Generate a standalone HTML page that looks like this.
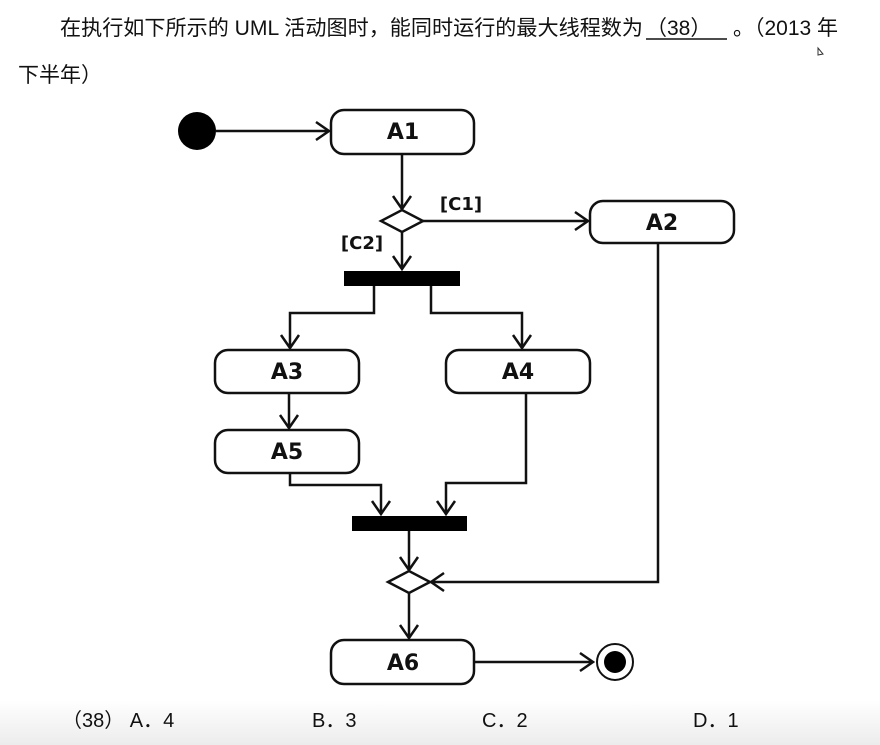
<!DOCTYPE html>
<html><head><meta charset="utf-8"><style>
html,body{margin:0;padding:0;background:#fff;}
body{width:880px;height:745px;overflow:hidden;position:relative;font-family:"Liberation Sans","Noto Sans CJK SC",sans-serif;}
.bg{position:absolute;left:0;top:700px;width:880px;height:45px;background:linear-gradient(#fff,#ececec);}
</style></head><body>
<div class="bg"></div>
<svg width="880" height="745" style="position:absolute;left:0;top:0" xmlns="http://www.w3.org/2000/svg">
<g font-family="Liberation Sans, Noto Sans CJK SC, sans-serif" fill="#111">
<text x="60" y="35" font-size="21" textLength="583" lengthAdjust="spacingAndGlyphs">在执行如下所示的 UML 活动图时，能同时运行的最大线程数为</text>
<text x="646" y="35" font-size="21">（38）</text>
<text x="733" y="35" font-size="21">。（2013 年</text>
<line x1="646" y1="39" x2="727" y2="39" stroke="#111" stroke-width="1.5"/>
<text x="18" y="82" font-size="21">下半年）</text>
<text x="62" y="727" font-size="20">（38） A．4</text>
<text x="312" y="727" font-size="20">B．3</text>
<text x="482" y="727" font-size="20">C．2</text>
<text x="693" y="727" font-size="20">D．1</text>
</g>
<g stroke="#111" stroke-width="2.5" fill="none">
<rect x="331" y="110" width="143" height="44" rx="13" fill="#fff"/>
<rect x="590" y="201" width="144" height="42" rx="13" fill="#fff"/>
<rect x="215" y="350" width="144" height="43" rx="13" fill="#fff"/>
<rect x="446" y="350" width="144" height="43" rx="13" fill="#fff"/>
<rect x="215" y="430" width="144" height="43" rx="13" fill="#fff"/>
<rect x="331" y="640" width="143" height="44" rx="13" fill="#fff"/>
<path d="M216 131H329M316 122l13 9-13 9"/>
<path d="M402 154V209M393 196l9 13 9-13"/>
<path d="M381 221l21-11 21 11-21 11z"/>
<path d="M423 221H588M575 212l13 9-13 9"/>
<path d="M402 232V269M393 256l9 13 9-13"/>
<path d="M374 286V313H290V348M281 335l9 13 9-13"/>
<path d="M431 286V313H522V348M513 335l9 13 9-13"/>
<path d="M289 393V428M280 415l9 13 9-13"/>
<path d="M290 473V485H381V514M372 501l9 13 9-13"/>
<path d="M526 393V483H446V514M437 501l9 13 9-13"/>
<path d="M409 530V570M400 557l9 13 9-13"/>
<path d="M388 582l21-11 21 11-21 11z"/>
<path d="M658 243V582H431M444 573l-13 9 13 9"/>
<path d="M409 593V638M400 625l9 13 9-13"/>
<path d="M474 662H593M580 653l13 9-13 9"/>
<circle cx="615" cy="662" r="18" stroke-width="2"/>
</g>
<circle cx="197" cy="131" r="19" fill="#000"/>
<circle cx="615" cy="662" r="11" fill="#000"/>
<rect x="344" y="271" width="116" height="15" fill="#000"/>
<rect x="352" y="516" width="115" height="15" fill="#000"/>
<g font-family="DejaVu Sans, Liberation Sans, sans-serif" font-weight="bold" fill="#111" text-anchor="middle">
<text x="403" y="139" font-size="22">A1</text>
<text x="662" y="230" font-size="22">A2</text>
<text x="287" y="379" font-size="22">A3</text>
<text x="518" y="379" font-size="22">A4</text>
<text x="287" y="459" font-size="22">A5</text>
<text x="403" y="670" font-size="22">A6</text>
<text x="461" y="210" font-size="18">[C1]</text>
<text x="362" y="249" font-size="18">[C2]</text>
</g>
<path d="M818 48l5 6-5 1z" fill="none" stroke="#333" stroke-width="1"/>
</svg>
</body></html>
